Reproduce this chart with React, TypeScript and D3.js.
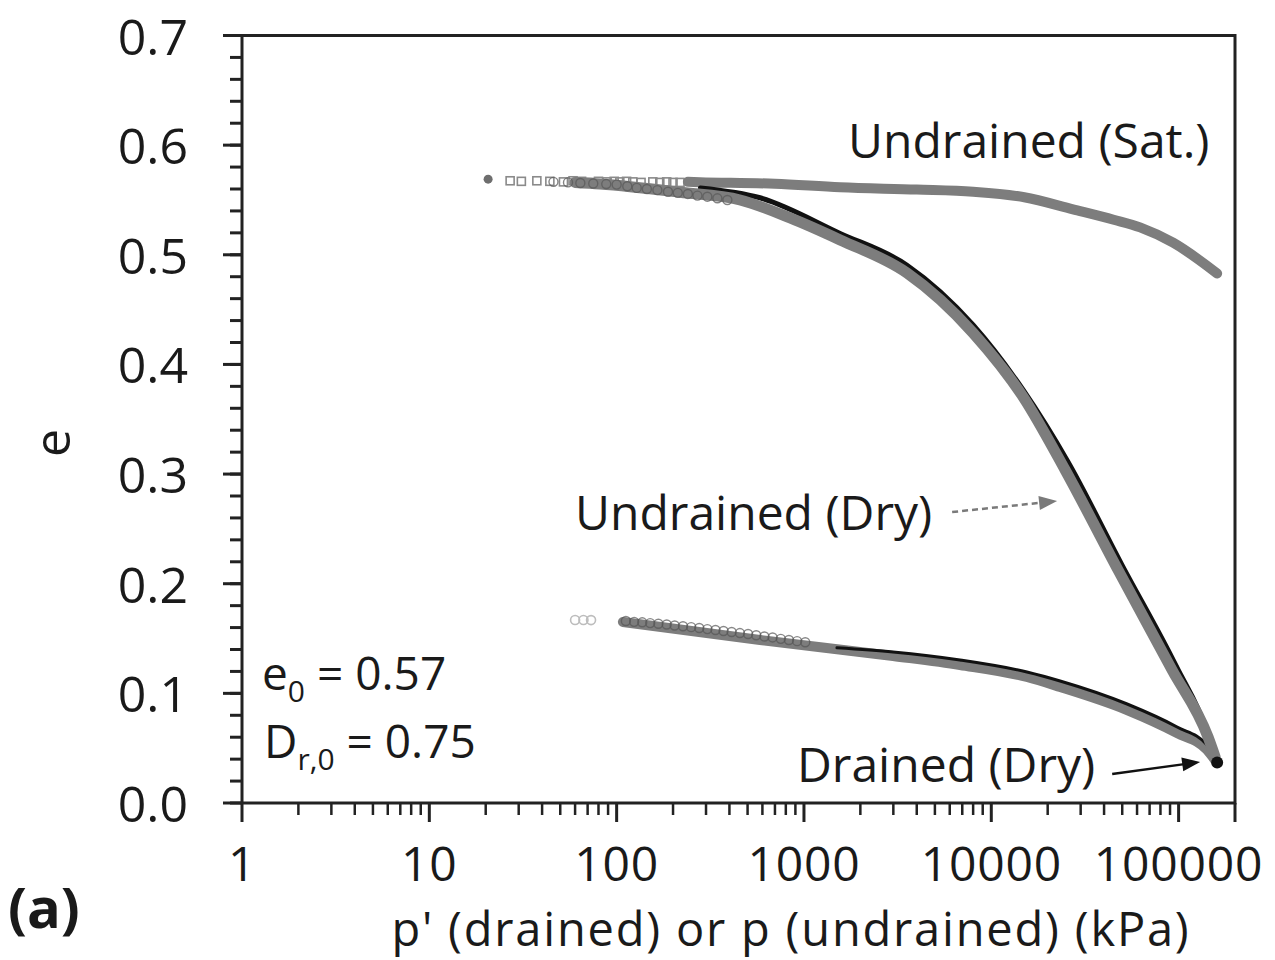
import React from 'react';
import * as d3 from 'd3';

const W = 1275;
const H = 960;
const PLOT = { left: 242, right: 1235, top: 35.5, bottom: 803 };
const FONT = "'Open Sans', 'Noto Sans', sans-serif";

// ticks
const yMajorTicks = [0, 0.1, 0.2, 0.3, 0.4, 0.5, 0.6, 0.7];
const yTickLabels = ['0.0', '0.1', '0.2', '0.3', '0.4', '0.5', '0.6', '0.7'];
const xMajorTicks = [1, 10, 100, 1000, 10000, 100000];
const xTickLabels = ['1', '10', '100', '1000', '10000', '100000'];

// Undrained (Sat.) – solid band
const satLineP = [240, 279, 700, 1560, 4000, 8000, 15000, 27300, 45000, 62300, 93500, 160600];
const satLineE = [0.5665, 0.5662, 0.5648, 0.5615, 0.5595, 0.5575, 0.5525, 0.5415, 0.532, 0.525, 0.511, 0.483];
// Undrained (Sat.) – first individual markers
const satFirstP = [20.6];
const satFirstE = [0.569];
const satMarkP = [27, 31, 37.5, 44, 52, 58.5, 65, 72, 80, 89, 97, 104, 113, 122, 135, 156, 170, 185, 200, 218];
const satMarkE = [0.5675, 0.567, 0.5675, 0.567, 0.5665, 0.5675, 0.567, 0.566, 0.567, 0.5665, 0.567, 0.5665, 0.567, 0.5665, 0.566, 0.5665, 0.566, 0.5665, 0.566, 0.566];

// Undrained (Dry) – upper compression band
const dryUpP = [60, 81.5, 218, 456, 843, 1560, 3550, 8000, 14800, 24800, 47500, 92300, 143600, 156700];
const dryUpE = [0.566, 0.5646, 0.557, 0.55, 0.5336, 0.5135, 0.4834, 0.4287, 0.3703, 0.3037, 0.2125, 0.1213, 0.0602, 0.042];
const dryUpMarkP = [46, 55, 64, 75, 88, 100, 114, 128, 145, 165, 188, 212, 240, 270, 305, 345, 390];
const dryUpMarkE = [0.5665, 0.566, 0.5655, 0.565, 0.5645, 0.564, 0.5625, 0.561, 0.560, 0.559, 0.5575, 0.5565, 0.5555, 0.554, 0.553, 0.5515, 0.550];

// lower branch (gray band)
const lowP = [108, 583, 2990, 6810, 15500, 23300, 53100, 98200, 142000, 156700];
const lowE = [0.1651, 0.1487, 0.1341, 0.1259, 0.1149, 0.1058, 0.0848, 0.0638, 0.0483, 0.039];
const lowFaintP = [60, 66.5, 73];
const lowFaintE = [0.1669, 0.1669, 0.1668];
const lowMarkP = [112, 124, 137, 151, 167, 185, 204, 226, 250, 276, 305, 337, 372, 411, 455, 503, 556, 615, 680, 752, 831, 919, 1016];
const lowMarkE = [0.166, 0.1652, 0.1648, 0.1641, 0.1635, 0.1628, 0.1619, 0.1612, 0.1604, 0.1596, 0.1586, 0.1578, 0.1569, 0.156, 0.155, 0.1541, 0.153, 0.1519, 0.151, 0.1497, 0.1487, 0.1476, 0.1466];

// Drained (Dry) – black line, loading and unloading
const drLoadP = [280, 583, 1560, 3550, 8000, 14800, 25700, 49900, 97000, 143000, 158000];
const drLoadE = [0.561, 0.552, 0.5195, 0.4905, 0.436, 0.3767, 0.311, 0.217, 0.125, 0.0635, 0.039];
const drUnloadP = [1500, 2990, 6810, 15500, 23300, 53100, 98200, 142000, 158000];
const drUnloadE = [0.1415, 0.1377, 0.1304, 0.1195, 0.1113, 0.0903, 0.0693, 0.0529, 0.039];
const drEndP = [160600];
const drEndE = [0.037];

// annotation anchors (data coordinates)
const dashArrow = { from: [6180, 0.2654], to: [22450, 0.2754] };
const solidArrow = { from: [44200, 0.0265], to: [130300, 0.0374] };

const x = d3.scaleLog().domain([1, 200000]).range([PLOT.left, PLOT.right]);
const y = d3.scaleLinear().domain([0, 0.7]).range([PLOT.bottom, PLOT.top]);

const line = d3
  .line<[number, number]>()
  .x((d) => x(d[0]))
  .y((d) => y(d[1]))
  .curve(d3.curveMonotoneX);

const zip = (a: number[], b: number[]): [number, number][] => a.map((v, i) => [v, b[i]]);

function arrowHead(x1: number, y1: number, x2: number, y2: number, len: number, half: number) {
  const ang = Math.atan2(y2 - y1, x2 - x1);
  const bx = x2 - len * Math.cos(ang);
  const by = y2 - len * Math.sin(ang);
  const px = -Math.sin(ang) * half;
  const py = Math.cos(ang) * half;
  return `M${x2},${y2}L${bx + px},${by + py}L${bx - px},${by - py}Z`;
}

export default function App() {
  const minorX: number[] = [];
  for (let k = 0; k <= 5; k++) {
    for (let m = 2; m <= 9; m++) {
      const v = m * Math.pow(10, k);
      if (v < 200000) minorX.push(v);
    }
  }
  const minorY: number[] = d3.range(0, 36).map((i) => i * 0.02).filter((v) => v <= 0.7001);

  const axisColor = '#222';
  const gray = '#7d7d7d';

  const da = dashArrow;
  const dx1 = x(da.from[0]), dy1 = y(da.from[1]), dx2 = x(da.to[0]), dy2 = y(da.to[1]);
  const sa = solidArrow;
  const sx1 = x(sa.from[0]), sy1 = y(sa.from[1]), sx2 = x(sa.to[0]), sy2 = y(sa.to[1]);
  const dang = Math.atan2(dy2 - dy1, dx2 - dx1);
  const sang = Math.atan2(sy2 - sy1, sx2 - sx1);

  return (
    <svg width={W} height={H} style={{ position: 'absolute', left: 0, top: 0, background: '#fff' }} fontFamily={FONT}>
      <rect x={0} y={0} width={W} height={H} fill="#fff" />

      {/* data: lower branch */}
      {zip(lowFaintP, lowFaintE).map((d, i) => (
        <circle key={'lf' + i} cx={x(d[0])} cy={y(d[1])} r={4.5} fill="none" stroke="#bdbdbd" strokeWidth={1.6} />
      ))}
      <path d={line(zip(lowP, lowE)) || ''} fill="none" stroke={gray} strokeWidth={10} strokeLinecap="round" />
      {zip(lowMarkP, lowMarkE).map((d, i) => (
        <circle key={'lm' + i} cx={x(d[0])} cy={y(d[1])} r={4.5} fill="none" stroke="#555" strokeWidth={1.4} opacity={0.7} />
      ))}
      <path d={line(zip(drUnloadP, drUnloadE)) || ''} fill="none" stroke="#111" strokeWidth={3} strokeLinecap="round" />

      {/* data: Undrained (Sat.) */}
      {zip(satMarkP, satMarkE).map((d, i) => (
        <rect key={'sm' + i} x={x(d[0]) - 4} y={y(d[1]) - 4} width={8} height={8} fill="none" stroke="#8a8a8a" strokeWidth={1.6} />
      ))}
      {zip(satFirstP, satFirstE).map((d, i) => (
        <circle key={'sf' + i} cx={x(d[0])} cy={y(d[1])} r={4.5} fill="#6e6e6e" />
      ))}
      <path d={line(zip(satLineP, satLineE)) || ''} fill="none" stroke={gray} strokeWidth={10} strokeLinecap="round" />

      {/* data: Drained (Dry) loading black line beneath gray band */}
      <path d={line(zip(drLoadP, drLoadE)) || ''} fill="none" stroke="#111" strokeWidth={5} strokeLinecap="round" />
      {/* data: Undrained (Dry) upper band */}
      <path d={line(zip(dryUpP, dryUpE)) || ''} fill="none" stroke={gray} strokeWidth={11} strokeLinecap="round" />
      {zip(dryUpMarkP, dryUpMarkE).map((d, i) => (
        <circle key={'dm' + i} cx={x(d[0])} cy={y(d[1])} r={4.5} fill="none" stroke="#5a5a5a" strokeWidth={1.4} opacity={0.75} />
      ))}
      {zip(drEndP, drEndE).map((d, i) => (
        <circle key={'de' + i} cx={x(d[0])} cy={y(d[1])} r={6} fill="#111" />
      ))}

      {/* frame */}
      <rect x={PLOT.left} y={PLOT.top} width={PLOT.right - PLOT.left} height={PLOT.bottom - PLOT.top} fill="none" stroke={axisColor} strokeWidth={3} />

      {/* y ticks */}
      {minorY.map((v, i) => (
        <line key={'ym' + i} x1={PLOT.left - 12} x2={PLOT.left} y1={y(v)} y2={y(v)} stroke={axisColor} strokeWidth={3} />
      ))}
      {yMajorTicks.map((v, i) => (
        <g key={'yt' + i}>
          <line x1={PLOT.left - 19} x2={PLOT.left} y1={y(v)} y2={y(v)} stroke={axisColor} strokeWidth={3} />
          <text x={188} y={y(v) + 19} textAnchor="end" fontSize={50} fill="#1a1a1a">
            {yTickLabels[i]}
          </text>
        </g>
      ))}

      {/* x ticks */}
      {minorX.map((v, i) => (
        <line key={'xm' + i} x1={x(v)} x2={x(v)} y1={PLOT.bottom} y2={PLOT.bottom + 12} stroke={axisColor} strokeWidth={2.5} />
      ))}
      <line x1={PLOT.right} x2={PLOT.right} y1={PLOT.bottom} y2={PLOT.bottom + 19} stroke={axisColor} strokeWidth={3} />
      {xMajorTicks.map((v, i) => (
        <g key={'xt' + i}>
          <line x1={x(v)} x2={x(v)} y1={PLOT.bottom} y2={PLOT.bottom + 19} stroke={axisColor} strokeWidth={3} />
          <text x={x(v)} y={881} textAnchor="middle" fontSize={48} letterSpacing={0.8} fill="#1a1a1a">
            {xTickLabels[i]}
          </text>
        </g>
      ))}

      {/* axis titles */}
      <text x={791} y={946} textAnchor="middle" fontSize={47} letterSpacing={1.8} fill="#1a1a1a">
        p' (drained) or p (undrained) (kPa)
      </text>
      <text transform="translate(70,443) rotate(-90)" textAnchor="middle" fontSize={50} fill="#1a1a1a">
        e
      </text>
      <text x={8} y={928} fontSize={56} fontWeight="bold" fill="#1a1a1a">
        (a)
      </text>

      {/* annotations */}
      <text x={848} y={158} fontSize={48} fill="#1a1a1a">Undrained (Sat.)</text>
      <text x={575} y={530} fontSize={48} fill="#1a1a1a">Undrained (Dry)</text>
      <text x={797} y={782} fontSize={48} fill="#1a1a1a">Drained (Dry)</text>

      <text x={262} y={690} fontSize={46} fill="#1a1a1a">
        e<tspan fontSize={30} dy={12}>0</tspan>
        <tspan dy={-12}> = 0.57</tspan>
      </text>
      <text x={264} y={758} fontSize={46} fill="#1a1a1a">
        D<tspan fontSize={30} dy={12}>r,0</tspan>
        <tspan dy={-12}> = 0.75</tspan>
      </text>

      <line
        x1={dx1}
        y1={dy1}
        x2={dx2 - 14 * Math.cos(dang)}
        y2={dy2 - 14 * Math.sin(dang)}
        stroke="#7a7a7a"
        strokeWidth={2.5}
        strokeDasharray="6,4"
      />
      <path d={arrowHead(dx1, dy1, dx2, dy2, 18, 7)} fill="#7a7a7a" />

      <line
        x1={sx1}
        y1={sy1}
        x2={sx2 - 14 * Math.cos(sang)}
        y2={sy2 - 14 * Math.sin(sang)}
        stroke="#111"
        strokeWidth={2.5}
      />
      <path d={arrowHead(sx1, sy1, sx2, sy2, 18, 7)} fill="#111" />
    </svg>
  );
}
